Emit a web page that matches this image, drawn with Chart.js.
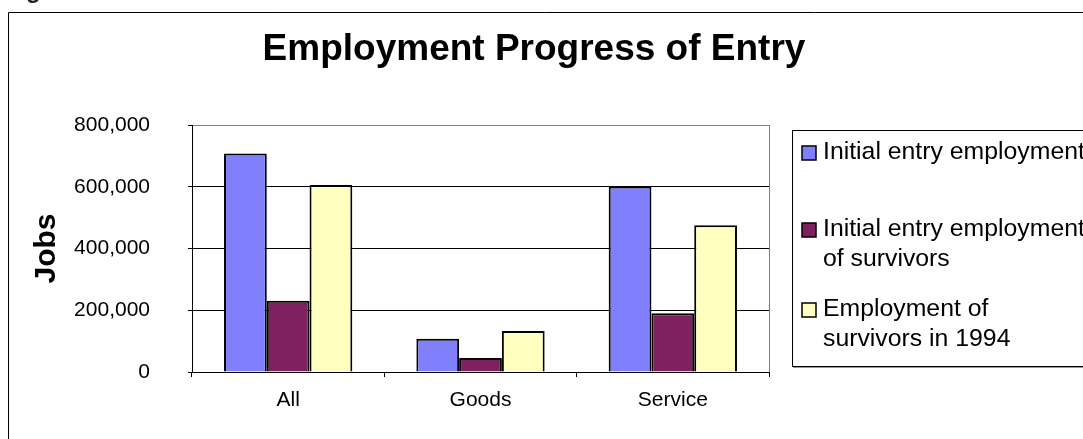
<!DOCTYPE html>
<html>
<head>
<meta charset="utf-8">
<title>Employment Progress of Entry</title>
<script src="https://cdn.jsdelivr.net/npm/chart.js@4.4.0/dist/chart.umd.min.js"></script>
<style>
  html, body { margin: 0; padding: 0; background: #fff; }
  canvas { display: block; }
</style>
</head>
<body>
<canvas id="entryChart" width="1083" height="439"></canvas>
<script>
const categories = ["All", "Goods", "Service"];
const initialEntry = [708000, 108000, 601000];
const initialSurvivors = [231000, 45000, 190000];
const survivors1994 = [606000, 133000, 475000];
const yTicks = [0, 200000, 400000, 600000, 800000];

// legend text, already broken into the lines it is shown on
const seriesLines = [
  ["Initial entry employment"],
  ["Initial entry employment", "of survivors"],
  ["Employment of", "survivors in 1994"],
];
const seriesColors = ["#8080FF", "#802060", "#FFFFC0"];

const FONT = "'Liberation Sans', Arial, Helvetica, sans-serif";
Chart.defaults.font.family = FONT;
Chart.defaults.color = "#000";

// white page, outer frame and the cut-off caption line above it
const framePlugin = {
  id: "frame",
  beforeDraw(chart) {
    const ctx = chart.ctx;
    ctx.save();
    ctx.fillStyle = "#fff";
    ctx.fillRect(0, 0, chart.width, chart.height);
    ctx.fillStyle = "#222";
    ctx.font = "bold 24px " + FONT;
    ctx.textBaseline = "alphabetic";
    ctx.fillText("g", 26, -2);
    ctx.strokeStyle = "#000";
    ctx.lineWidth = 1;
    ctx.beginPath();
    ctx.moveTo(8.5, chart.height);
    ctx.lineTo(8.5, 12.5);
    ctx.lineTo(chart.width, 12.5);
    ctx.stroke();
    ctx.restore();
  },
};

// boxed legend on the right, wrapped labels
const legendPlugin = {
  id: "boxLegend",
  afterDraw(chart) {
    const ctx = chart.ctx;
    const rows = [146, 223, 303];
    ctx.save();
    ctx.fillStyle = "#fff";
    ctx.fillRect(793, 131, chart.width, 235);
    ctx.strokeStyle = "#000";
    ctx.lineWidth = 1;
    ctx.strokeRect(792.5, 130.5, chart.width, 236);
    ctx.strokeStyle = "#9a9a9a";
    ctx.beginPath();
    ctx.moveTo(793, 367.5);
    ctx.lineTo(chart.width, 367.5);
    ctx.stroke();

    ctx.font = "24.8px " + FONT;
    ctx.textBaseline = "alphabetic";
    chart.data.datasets.forEach((ds, i) => {
      const top = rows[i];
      ctx.fillStyle = ds.backgroundColor;
      ctx.fillRect(802, top, 14, 14);
      ctx.strokeStyle = "#000";
      ctx.lineWidth = 1.5;
      ctx.strokeRect(802, top, 14, 14);
      ctx.fillStyle = "#000";
      seriesLines[i].forEach((line, j) => ctx.fillText(line, 823, top + 13 + j * 29.7));
    });
    ctx.restore();
  },
};

const seriesData = [initialEntry, initialSurvivors, survivors1994];

const datasets = seriesData.map((data, i) => ({
  label: seriesLines[i].join(" "),
  data,
  yAxisID: "y",
  backgroundColor: seriesColors[i],
  borderColor: "#000",
  borderWidth: 2,
  borderSkipped: "start",
  categoryPercentage: 0.667,
  barPercentage: 1.0,
}));

new Chart(document.getElementById("entryChart").getContext("2d"), {
  type: "bar",
  data: { labels: categories, datasets },
  options: {
    responsive: false,
    animation: false,
    devicePixelRatio: 1,
    layout: { padding: { left: 0, right: 15, top: 0, bottom: 0 } },
    plugins: {
      legend: { display: false },
      tooltip: { enabled: false },
      title: {
        display: true,
        text: "Employment Progress of Entry",
        color: "#000",
        font: { size: 37, weight: "bold" },
        padding: { top: 28, bottom: 52.6 },
      },
    },
    scales: {
      x: {
        grid: {
          offset: true,
          color: (c) => (c.type === "tick" ? "rgba(0,0,0,0)" : "#808080"),
          tickColor: "#000",
          tickLength: 5,
          lineWidth: 1,
        },
        border: { display: true, color: "#000", width: 1 },
        ticks: { font: { size: 21 }, color: "#000", padding: 11 },
        afterFit: (s) => { s.height = 67; },
      },
      y: {
        min: 0,
        max: 800000,
        afterBuildTicks: (s) => { s.ticks = yTicks.map((v) => ({ value: v })); },
        grid: {
          color: (c) => (c.tick && c.tick.value === yTicks[yTicks.length - 1] ? "#808080" : "#000"),
          tickColor: "#000",
          tickLength: 4,
          lineWidth: 1,
        },
        border: { display: true, color: "#000", width: 1 },
        ticks: {
          font: { size: 21 },
          color: "#000",
          padding: 38,
          callback: (v) => Number(v).toLocaleString("en-US"),
        },
        title: {
          display: true,
          text: "Jobs",
          color: "#000",
          font: { size: 30, weight: "bold" },
          padding: { top: 29, bottom: 0 },
        },
        afterFit: (s) => { s.width = 192; },
      },
      // empty right-hand box that keeps the plot clear of the legend
      pad: {
        type: "linear",
        position: "right",
        display: true,
        grid: { display: false },
        border: { display: false },
        ticks: { display: false },
        afterFit: (s) => { s.width = 299; },
      },
    },
  },
  plugins: [framePlugin, legendPlugin],
});
</script>
</body>
</html>
